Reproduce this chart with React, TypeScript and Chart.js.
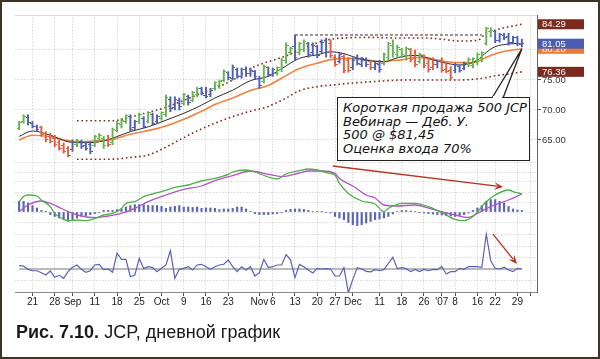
import React, { useEffect, useRef } from "react";
import { Chart, registerables } from "chart.js";

Chart.register(...registerables);

// Trading-day index: 0 = Mon 21 Aug 2006. First bar = 16 Aug 2006 (-3), last bar = 30 Jan 2007 (110).
const FIRST_DAY = -3;
const X_MIN = -3.93;
const X_MAX = 113.4;

const tickDays = [0, 5, 9, 14, 19, 24, 29, 34, 39, 44, 51, 54, 59, 64, 68, 72, 78, 83, 88, 92, 95, 100, 104, 109, 112];
const tickLabels = ["21", "28", "Sep", "11", "18", "25", "Oct", "9", "16", "23", "Nov", "6", "13", "20", "27", "Dec", "11", "18", "26", "'07", "8", "16", "22", "29", ""];

const priceTicks = [65, 70, 75, 80];
const macdTicks = [-0.5, 0, 0.5, 1, 1.5, 2, 2.5];
const forceTicks = [-1, 1, 2, 3];

// Elder impulse colour of each bar: G = green, B = blue, R = red
const barColors =
  "GGBBBRRRRR" + "RRBGBBBGGG" + "RGGGGBBGBG" + "BBGGBBBGBG" + "GBBBGGGBBB" + "BBBBBGBBGG" +
  "GGBGGBBBBB" + "RRBRRBBBBR" + "BBGGGGGGRR" + "GRRRBRRRBB" + "BGGGGGGBBB" + "BBBB";

const high = [
  68.1, 69.2, 69.2, 68.1, 67.5, 67.3, 66.4, 66.1, 65.8, 65.0,
  64.5, 63.9, 65.0, 65.1, 65.0, 64.7, 64.7, 65.8, 66.1, 65.6,
  65.8, 67.0, 68.1, 68.6, 69.2, 69.2, 68.3, 69.5, 68.9, 69.7,
  69.5, 69.2, 69.7, 72.5, 72.2, 72.2, 72.0, 72.8, 72.5, 73.1,
  73.8, 73.8, 73.8, 73.6, 74.7, 75.0, 76.7, 76.4, 77.5, 77.0,
  77.0, 77.2, 77.0, 76.6, 75.6, 77.5, 77.2, 77.0, 77.2, 78.6,
  81.2, 80.5, 82.5, 81.3, 81.7, 81.3, 81.2, 80.8, 81.7, 82.0,
  81.7, 79.2, 79.5, 79.2, 78.7, 78.7, 79.2, 78.8, 78.7, 78.3,
  78.0, 78.3, 79.5, 81.3, 81.7, 80.8, 80.3, 80.5, 80.3, 80.0,
  79.5, 79.2, 78.8, 78.7, 78.3, 78.7, 78.0, 77.2, 77.8, 77.5,
  78.0, 78.7, 78.7, 79.5, 79.7, 83.8, 83.7, 83.3, 82.8, 82.8,
  82.8, 82.3, 82.3, 81.8,
];
const low = [
  66.7, 67.8, 67.5, 67.0, 66.4, 65.6, 64.7, 64.5, 63.9, 63.3,
  62.8, 62.2, 63.1, 63.9, 63.6, 63.3, 62.7, 63.9, 64.7, 63.6,
  63.9, 64.2, 66.4, 67.0, 67.8, 66.4, 66.7, 67.7, 67.0, 67.8,
  67.5, 67.7, 68.3, 68.9, 69.7, 70.0, 70.0, 70.8, 70.8, 71.4,
  72.2, 72.5, 72.0, 72.2, 73.3, 73.6, 74.7, 75.0, 75.0, 75.3,
  75.3, 75.6, 75.6, 75.2, 73.6, 74.5, 75.6, 75.6, 75.8, 76.4,
  77.8, 79.2, 78.3, 79.2, 79.7, 78.8, 79.2, 78.7, 79.5, 78.8,
  78.7, 77.3, 77.8, 76.2, 76.3, 76.7, 77.5, 77.2, 77.2, 76.7,
  76.7, 76.3, 77.5, 78.3, 78.8, 78.7, 78.7, 78.3, 78.0, 77.2,
  77.8, 77.0, 76.3, 76.7, 77.0, 76.3, 76.2, 75.0, 76.2, 76.3,
  76.7, 77.2, 77.0, 77.5, 78.0, 80.8, 82.2, 81.2, 81.3, 81.7,
  80.8, 81.0, 80.7, 80.5,
];
const open = [
  66.9, 68.0, 68.8, 67.8, 67.2, 67.0, 66.0, 65.5, 65.2, 64.6,
  64.0, 63.5, 63.4, 64.3, 64.8, 64.0, 64.2, 64.1, 65.2, 65.2,
  65.0, 64.5, 66.6, 67.5, 68.1, 68.9, 67.0, 68.0, 68.6, 68.0,
  69.2, 68.0, 68.6, 69.2, 71.8, 70.4, 71.6, 71.0, 72.2, 71.6,
  72.5, 73.5, 72.4, 72.5, 73.5, 74.0, 74.9, 76.2, 75.3, 76.8,
  75.6, 76.8, 76.0, 76.4, 75.3, 74.8, 77.0, 75.9, 76.0, 76.7,
  78.2, 79.5, 80.5, 79.5, 80.0, 81.0, 79.5, 80.5, 79.8, 81.5,
  81.0, 78.8, 78.0, 78.9, 78.2, 77.0, 78.5, 77.6, 78.3, 78.0,
  77.0, 77.5, 77.8, 78.8, 80.8, 79.3, 80.0, 79.0, 80.0, 78.5,
  78.0, 79.0, 77.8, 77.0, 77.5, 78.2, 76.8, 76.6, 76.5, 77.2,
  76.9, 77.6, 77.4, 78.2, 78.5, 81.0, 83.0, 83.0, 81.6, 82.4,
  82.2, 81.3, 82.0, 80.9,
];
const close = [
  67.9, 68.9, 67.9, 67.3, 66.7, 65.9, 65.0, 64.8, 64.2, 63.6,
  63.0, 62.5, 64.6, 64.9, 63.9, 63.6, 63.0, 65.5, 65.8, 64.1,
  64.2, 66.8, 67.8, 68.3, 69.0, 66.7, 68.0, 69.2, 67.3, 69.5,
  67.8, 68.9, 69.5, 72.0, 70.2, 71.8, 70.5, 72.5, 71.2, 72.9,
  73.6, 72.8, 72.3, 73.3, 74.5, 74.8, 76.4, 75.4, 77.0, 75.6,
  76.7, 76.0, 76.6, 75.5, 74.0, 77.2, 75.9, 76.7, 77.0, 78.3,
  80.8, 80.2, 78.8, 81.0, 81.4, 79.2, 80.8, 79.0, 81.3, 79.5,
  79.0, 77.6, 79.2, 76.6, 76.6, 78.3, 77.8, 78.5, 77.5, 77.0,
  77.7, 76.8, 79.2, 81.0, 79.5, 80.4, 79.2, 80.2, 78.4, 77.6,
  79.2, 77.4, 76.7, 77.6, 78.0, 76.6, 76.4, 75.4, 77.5, 76.6,
  77.8, 78.4, 78.5, 79.2, 79.5, 83.5, 83.2, 81.6, 82.5, 82.0,
  81.2, 82.0, 81.0, 81.05,
];

// [day, value] readings
const emaFast = [
  [-3, 65.6], [0, 66.5], [4, 65.8], [8, 64.7], [11, 64.55], [15, 64.7], [18, 65.3], [22, 66.4],
  [26, 67.2], [30, 68.3], [34, 69.45], [38, 70.8], [41, 72.0], [45, 73.3], [49, 74.9], [53, 75.6],
  [56, 76.9], [60, 78.6], [64, 79.2], [67, 79.7], [70, 79.4], [72, 78.9], [75, 78.3], [79, 78.05],
  [81, 78.45], [83, 78.9], [86, 79.1], [88, 78.9], [90, 78.35], [93, 77.8], [96, 77.5], [98, 77.67],
  [100, 78.3], [102, 79.6], [104, 80.55], [107, 81.0], [109, 81.1], [110, 80.95],
];
const emaSlow = [
  [-3, 65.0], [0, 65.8], [4, 65.55], [8, 64.9], [11, 64.7], [15, 64.9], [18, 65.1], [22, 65.95],
  [28, 66.9], [30, 67.33], [34, 68.45], [38, 69.8], [41, 70.9], [45, 72.0], [49, 73.25], [53, 74.1],
  [56, 75.3], [60, 76.9], [64, 77.8], [67, 78.4], [71, 78.6], [75, 78.33], [79, 78.05], [81, 78.25],
  [83, 78.35], [86, 78.75], [89, 78.6], [93, 78.05], [97, 77.9], [100, 78.05], [102, 78.8],
  [105, 79.6], [108, 80.0], [110, 80.2],
];
const envUpper = [
  [10, 68.2], [14, 68.2], [18, 68.2], [21, 68.6], [24, 69.2], [27, 69.8], [30, 70.45], [34, 71.6],
  [38, 72.8], [41, 73.6], [45, 75.0], [49, 76.9], [52, 77.8], [55, 78.5], [58, 79.3], [61, 80.3],
  [64, 81.2], [67, 81.8], [70, 82.0], [76, 82.1], [82, 82.0], [88, 82.0], [92, 81.8], [96, 81.5],
  [100, 81.6], [102, 82.8], [104, 83.3], [106, 83.7], [108, 84.0], [110, 84.29],
];
const envLower = [
  [10, 61.8], [14, 61.8], [18, 61.8], [22, 62.1], [26, 62.5], [30, 63.8], [33, 65.0], [37, 66.5],
  [41, 67.8], [45, 68.9], [49, 69.8], [53, 70.6], [57, 72.0], [60, 73.2], [64, 73.9], [68, 74.2],
  [72, 74.5], [76, 74.7], [80, 74.9], [84, 75.0], [90, 75.0], [96, 75.0], [100, 75.2], [102, 75.4],
  [104, 75.7], [106, 75.9], [108, 76.1], [110, 76.36],
];
const resistance = [[59, 82.5], [101, 82.5]];

const macdLine = [
  [-3, 0.52], [-2, 0.77], [-1, 0.85], [1, 0.8], [2, 0.6], [4, 0.27], [5, -0.07], [7, -0.37],
  [8, -0.43], [10, -0.4], [12, -0.43], [14, -0.32], [16, -0.15], [18, -0.07], [20, 0.18], [21, 0.43],
  [23, 0.52], [25, 0.77], [27, 0.9], [29, 1.02], [32, 1.23], [35, 1.35], [38, 1.55], [41, 1.68],
  [44, 1.88], [45, 2.0], [48, 2.1], [50, 2.0], [53, 1.75], [55, 1.65], [57, 1.9], [60, 2.07],
  [62, 2.15], [65, 2.05], [66, 1.97], [68, 1.85], [69, 1.43], [71, 0.93], [74, 0.55], [77, 0.4],
  [79, 0.02], [80, 0.18], [83, 0.43], [86, 0.43], [89, 0.27], [92, -0.03], [95, -0.37], [97, -0.43],
  [99, -0.23], [102, 0.52], [104, 0.85], [107, 1.1], [108, 1.02], [110, 0.9],
];
const signalLine = [
  [-3, 0.02], [-1, 0.35], [2, 0.55], [4, 0.43], [6, 0.23], [8, 0.02], [11, -0.2], [14, -0.28],
  [17, -0.2], [20, -0.07], [23, 0.18], [26, 0.52], [30, 0.85], [34, 1.13], [38, 1.3], [41, 1.57],
  [45, 1.82], [49, 2.05], [53, 1.88], [56, 1.77], [60, 1.95], [62, 2.05], [65, 2.05], [68, 1.93],
  [69, 1.68], [72, 1.3], [75, 0.85], [77, 0.7], [79, 0.35], [82, 0.3], [86, 0.35], [90, 0.13],
  [95, -0.15], [98, -0.27], [100, -0.07], [103, 0.27], [107, 0.6], [110, 0.9],
];
const histogram = [
  0.53, 0.53, 0.45, 0.32, 0.2, 0.08, 0.01, -0.13, -0.22, -0.3,
  -0.38, -0.47, -0.38, -0.3, -0.22, -0.18, -0.13, -0.08, -0.02, 0.08,
  0.08, 0.08, 0.12, 0.15, 0.25, 0.32, 0.37, 0.37, 0.37, 0.33,
  0.32, 0.32, 0.28, 0.18, 0.25, 0.28, 0.32, 0.25, 0.25, 0.23,
  0.25, 0.18, 0.2, 0.2, 0.18, 0.12, 0.15, 0.15, 0.18, 0.25,
  0.25, 0.15, 0.03, -0.08, -0.13, -0.13, -0.13, -0.1, -0.08, -0.03,
  0.08, 0.13, 0.15, 0.15, 0.13, 0.08, 0.03, 0.02, 0.01, -0.02,
  -0.05, -0.22, -0.3, -0.38, -0.52, -0.63, -0.68, -0.63, -0.55, -0.47,
  -0.38, -0.35, -0.3, -0.22, -0.1, 0.02, 0.08, 0.07, 0.05, 0.03,
  -0.02, -0.05, -0.08, -0.1, -0.13, -0.15, -0.18, -0.2, -0.22, -0.18,
  -0.13, -0.05, 0.08, 0.2, 0.32, 0.53, 0.62, 0.62, 0.53, 0.45,
  0.28, 0.15, 0.1, 0.08,
];
const forceIndex = [
  0.29, 0.25, -0.03, -0.15, -0.15, -0.32, -0.52, -0.17, -0.72, -0.55,
  -0.81, -0.23, 0.15, 0.35, -0.03, -0.29, -0.15, 0.35, 0.41, -0.06,
  0.0, -0.29, 1.37, 0.84, 0.84, -0.67, -0.52, 0.93, 0.03, 0.2,
  0.12, -0.23, 0.06, 0.35, 1.59, -0.81, -0.03, 0.06, 0.2, -0.09,
  0.35, 0.41, 0.2, -0.03, 0.2, 0.35, 0.41, 0.78, 0.2, -0.23,
  0.2, -0.09, 0.2, -0.61, -0.32, 0.84, 0.12, 0.2, 0.35, 0.35,
  1.25, 0.8, -0.75, 0.4, 0.2, -0.09, -0.35, 0.06, 0.0, 0.03,
  0.0, -0.61, -0.61, 0.12, -2.06, -0.9, 0.12, 0.0, -0.2, -0.25,
  -0.06, -0.15, -0.06, 0.5, 1.02, 0.03, 0.12, 0.03, -0.23, -0.03,
  -0.23, -0.03, -0.15, -0.03, -0.06, 0.2, -0.43, -0.23, -0.23, 0.06,
  -0.03, 0.2, 0.2, 0.2, 0.15, 3.02, 0.72, 0.06, 0.0, 0.15,
  -0.09, -0.23, 0.06, 0.0,
];

// annotation anchors in data units: [day, value]
const macdArrow = [[67.5, 2.3], [105.8, 1.25]];
const forceArrow = [[103.5, 3.04], [108.9, 0.43]];
const pointerTip = [110, 80.2];

const calloutLines = ["Короткая продажа 500 JCP", "Вебинар — Деб. У.", "500 @ $81,45", "Оценка входа 70%"];

const impulse: Record<string, string> = { G: "#66b450", B: "#4f5fb4", R: "#e65c3e" };

const days = high.map((_, i) => FIRST_DAY + i);
const pts = (arr: number[][]) => arr.map(([x, y]) => ({ x, y }));

function tickImage(color: string, side: "L" | "R") {
  const c = document.createElement("canvas");
  c.width = 5;
  c.height = 1;
  const g = c.getContext("2d")!;
  g.fillStyle = color;
  if (side === "L") g.fillRect(0, 0, 2, 1);
  else g.fillRect(3, 0, 2, 1);
  return c;
}

function drawArrow(ctx: CanvasRenderingContext2D, x1: number, y1: number, x2: number, y2: number, color: string) {
  const a = Math.atan2(y2 - y1, x2 - x1);
  const len = 9;
  const w = 3.8;
  ctx.strokeStyle = color;
  ctx.fillStyle = color;
  ctx.lineWidth = 1.3;
  ctx.beginPath();
  ctx.moveTo(x1, y1);
  ctx.lineTo(x2 - Math.cos(a) * len * 0.7, y2 - Math.sin(a) * len * 0.7);
  ctx.stroke();
  const bx = x2 - Math.cos(a) * len;
  const by = y2 - Math.sin(a) * len;
  ctx.beginPath();
  ctx.moveTo(x2, y2);
  ctx.lineTo(bx + Math.sin(a) * w, by - Math.cos(a) * w);
  ctx.lineTo(x2 - Math.cos(a) * len * 0.6, y2 - Math.sin(a) * len * 0.6);
  ctx.lineTo(bx - Math.sin(a) * w, by + Math.cos(a) * w);
  ctx.closePath();
  ctx.fill();
}

const overlayPlugin = {
  id: "overlay",
  afterDraw(chart: any) {
    const { ctx, chartArea, scales } = chart;
    const x = scales.x;
    const y = scales.y;
    const ym = scales.ym;
    const yf = scales.yf;
    ctx.save();
    // top frame
    ctx.strokeStyle = "#d9d9d9";
    ctx.lineWidth = 1;
    ctx.beginPath();
    ctx.moveTo(chartArea.left, chartArea.top + 0.5);
    ctx.lineTo(chartArea.right, chartArea.top + 0.5);
    ctx.stroke();

    // arrows
    drawArrow(ctx, x.getPixelForValue(macdArrow[0][0]), ym.getPixelForValue(macdArrow[0][1]),
      x.getPixelForValue(macdArrow[1][0]), ym.getPixelForValue(macdArrow[1][1]), "#b5321e");
    drawArrow(ctx, x.getPixelForValue(forceArrow[0][0]), yf.getPixelForValue(forceArrow[0][1]),
      x.getPixelForValue(forceArrow[1][0]), yf.getPixelForValue(forceArrow[1][1]), "#b5321e");

    // callout pointer
    const tx = x.getPixelForValue(pointerTip[0]);
    const ty = y.getPixelForValue(pointerTip[1]);
    ctx.strokeStyle = "#222";
    ctx.lineWidth = 1.3;
    ctx.beginPath();
    ctx.moveTo(492, 98);
    ctx.lineTo(tx, ty);
    ctx.lineTo(503, 98);
    ctx.stroke();

    // last-value boxes on the price axis
    const box = (v: number, bg: string) => {
      const py = y.getPixelForValue(v);
      ctx.fillStyle = bg;
      ctx.fillRect(chartArea.right + 1, py - 5, 46, 10);
      ctx.fillStyle = "#fff";
      ctx.font = "9.5px 'Liberation Sans', Arial, sans-serif";
      ctx.textBaseline = "middle";
      ctx.textAlign = "left";
      ctx.fillText(v.toFixed(2), chartArea.right + 5, py + 0.5);
    };
    box(emaSlow[emaSlow.length - 1][1], "#f07a34");
    box(close[close.length - 1], "#4b5cb2");
    box(envUpper[envUpper.length - 1][1], "#7a2a1e");
    box(envLower[envLower.length - 1][1], "#7a2a1e");
    ctx.restore();
  },
};

export default function App() {
  const ref = useRef<HTMLCanvasElement | null>(null);

  useEffect(() => {
    if (!ref.current) return;
    Chart.defaults.font.family = "'Liberation Sans', Arial, sans-serif";
    const openImgs: Record<string, HTMLCanvasElement> = {};
    const closeImgs: Record<string, HTMLCanvasElement> = {};
    for (const k of Object.keys(impulse)) {
      openImgs[k] = tickImage(impulse[k], "L");
      closeImgs[k] = tickImage(impulse[k], "R");
    }
    const gridColor = "rgba(0,0,0,0.14)";
    const chart = new Chart(ref.current, {
      type: "line",
      data: {
        datasets: [
          {
            type: "line", label: "envUpper", data: pts(envUpper), yAxisID: "y",
            borderColor: "#8b2a1a", borderWidth: 1.6, borderDash: [1.6, 2.85], pointRadius: 0,
            cubicInterpolationMode: "monotone", order: 10,
          },
          {
            type: "line", label: "envLower", data: pts(envLower), yAxisID: "y",
            borderColor: "#8b2a1a", borderWidth: 1.6, borderDash: [1.6, 2.85], pointRadius: 0,
            cubicInterpolationMode: "monotone", order: 10,
          },
          {
            type: "line", label: "resistance", data: pts(resistance), yAxisID: "y",
            borderColor: "#3a2a24", borderWidth: 1, borderDash: [3, 2], pointRadius: 0, order: 10,
          },
          {
            type: "line", label: "emaSlow", data: pts(emaSlow), yAxisID: "y",
            borderColor: "#f0823c", borderWidth: 1.6, pointRadius: 0,
            cubicInterpolationMode: "monotone", order: 9,
          },
          {
            type: "line", label: "emaFast", data: pts(emaFast), yAxisID: "y",
            borderColor: "#2b2b2b", borderWidth: 1, pointRadius: 0,
            cubicInterpolationMode: "monotone", order: 8,
          },
          {
            type: "bar", label: "range", yAxisID: "y",
            data: days.map((d, i) => ({ x: d, y: [low[i], high[i]] })) as any,
            backgroundColor: days.map((_, i) => impulse[barColors[i]]),
            barThickness: 1.3, grouped: false, order: 2,
          },
          {
            type: "line", label: "open", yAxisID: "y", showLine: false,
            data: days.map((d, i) => ({ x: d, y: open[i] })),
            pointStyle: (c: any) => openImgs[barColors[c.dataIndex]] as any,
            pointRadius: 2, order: 1,
          },
          {
            type: "line", label: "close", yAxisID: "y", showLine: false,
            data: days.map((d, i) => ({ x: d, y: close[i] })),
            pointStyle: (c: any) => closeImgs[barColors[c.dataIndex]] as any,
            pointRadius: 2, order: 1,
          },
          {
            type: "bar", label: "histogram", yAxisID: "ym",
            data: days.map((d, i) => ({ x: d, y: histogram[i] })),
            backgroundColor: "#5a64b4", barThickness: 1.5, grouped: false, order: 4,
          },
          {
            type: "line", label: "macd", data: pts(macdLine), yAxisID: "ym",
            borderColor: "#4fae48", borderWidth: 1.3, pointRadius: 0,
            cubicInterpolationMode: "monotone", order: 3,
          },
          {
            type: "line", label: "signal", data: pts(signalLine), yAxisID: "ym",
            borderColor: "#b255c0", borderWidth: 1.3, pointRadius: 0,
            cubicInterpolationMode: "monotone", order: 3,
          },
          {
            type: "line", label: "zero", yAxisID: "yf",
            data: [{ x: days[0], y: 0 }, { x: days[days.length - 1], y: 0 }],
            borderColor: "#a3a3a3", borderWidth: 1.5, pointRadius: 0, order: 6,
          },
          {
            type: "line", label: "force", yAxisID: "yf",
            data: days.map((d, i) => ({ x: d, y: forceIndex[i] })),
            borderColor: "#5862b4", borderWidth: 1.2, pointRadius: 0, tension: 0, order: 3,
          },
        ],
      },
      options: {
        responsive: false,
        animation: false,
        devicePixelRatio: 1,
        events: [],
        layout: { padding: { left: 15, top: 15, right: 0, bottom: 0 } },
        plugins: { legend: { display: false }, tooltip: { enabled: false } },
        scales: {
          x: {
            type: "linear", position: "bottom", min: X_MIN, max: X_MAX, offset: false,
            afterBuildTicks: (s: any) => { s.ticks = tickDays.map((v) => ({ value: v })); },
            afterFit: (s: any) => { s.height = 67; },
            ticks: {
              autoSkip: false, maxRotation: 0, padding: 0, color: "#222",
              font: { size: 10 },
              callback: (_v: any, i: number) => tickLabels[i],
            },
            grid: { offset: false, color: gridColor, tickColor: "#555", tickLength: 4, lineWidth: 1 },
            border: { display: true, color: "#8a8a8a", width: 1, dash: [1.5, 1.5] },
          },
          y: {
            type: "linear", position: "right", min: 39.667, max: 85.833,
            afterBuildTicks: (s: any) => { s.ticks = priceTicks.map((v) => ({ value: v })); },
            afterFit: (s: any) => { s.width = 63; },
            ticks: {
              padding: 1, color: "#333", font: { size: 9.5 },
              callback: (v: any) => (v <= 75 ? Number(v).toFixed(2) : ""),
            },
            grid: { color: gridColor, tickColor: "#555", tickLength: 4 },
            border: { display: true, color: "#666", width: 1, dash: [1.5, 1.5] },
          },
          ym: {
            type: "linear", position: "left", min: -4.0, max: 9.85,
            afterBuildTicks: (s: any) => { s.ticks = macdTicks.map((v) => ({ value: v })); },
            afterFit: (s: any) => { s.width = 0; },
            ticks: { display: false },
            grid: { color: gridColor, drawTicks: false },
            border: { display: false, dash: [1.5, 1.5] },
          },
          yf: {
            type: "linear", position: "left", min: -2.0, max: 22.087,
            afterBuildTicks: (s: any) => { s.ticks = forceTicks.map((v) => ({ value: v })); },
            afterFit: (s: any) => { s.width = 0; },
            ticks: { display: false },
            grid: { color: gridColor, drawTicks: false },
            border: { display: false, dash: [1.5, 1.5] },
          },
        },
      } as any,
      plugins: [overlayPlugin],
    });
    return () => chart.destroy();
  }, []);

  return (
    <div style={{ position: "absolute", left: 0, top: 0, width: 600, height: 359, background: "#fff", overflow: "hidden" }}>
      <canvas ref={ref} width={600} height={359} style={{ position: "absolute", left: 0, top: 0, width: 600, height: 359 }} />
      <div
        style={{
          position: "absolute", left: 337, top: 97, width: 193, height: 64, boxSizing: "border-box",
          border: "1.4px solid #222", background: "#fff", padding: "3px 0 0 5px",
          fontFamily: "'DejaVu Sans', sans-serif", fontStyle: "italic", fontSize: 13, lineHeight: "13.6px",
          color: "#111", whiteSpace: "nowrap",
        }}
      >
        {calloutLines.map((t) => (
          <div key={t}>{t}</div>
        ))}
      </div>
      <div style={{ position: "absolute", left: 493, top: 96, width: 9, height: 3, background: "#fff" }} />
      <div
        style={{
          position: "absolute", left: 16, top: 322, fontFamily: "'Liberation Sans', Arial, sans-serif",
          fontSize: 18, lineHeight: "20px", color: "#1a1a1a", whiteSpace: "nowrap",
        }}
      >
        <b>Рис. 7.10.</b> JCP, дневной график
      </div>
      <div
        style={{
          position: "absolute", left: 0, top: 0, width: 600, height: 359, boxSizing: "border-box",
          border: "2px solid #3d3428", pointerEvents: "none",
        }}
      />
    </div>
  );
}
